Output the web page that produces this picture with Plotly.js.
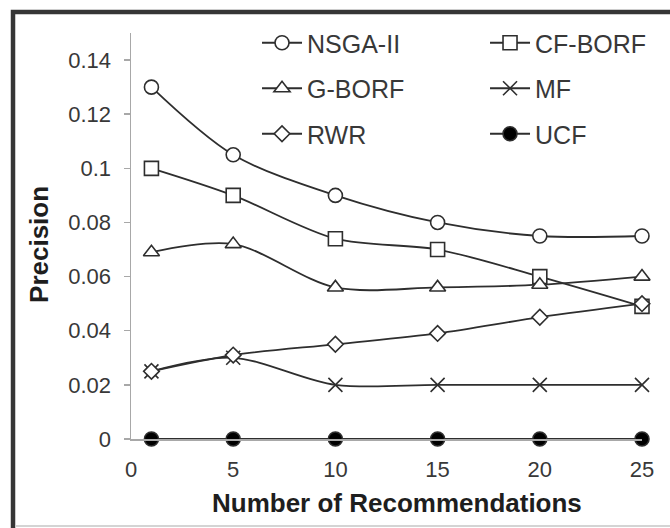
<!DOCTYPE html>
<html>
<head>
<meta charset="utf-8">
<script src="https://cdn.plot.ly/plotly-3.0.1.min.js"></script>
<style>
  html, body { margin: 0; padding: 0; background: #fff; }
  #chart { width: 670px; height: 528px; }
</style>
</head>
<body>
<div id="chart"></div>
<script>
// Number of recommendations (x positions)
const recommendations = [1, 5, 10, 15, 20, 25];

// Precision per method
const nsga2  = [0.130, 0.105, 0.090, 0.080, 0.075, 0.075];
const cfBorf = [0.100, 0.090, 0.074, 0.070, 0.060, 0.049];
const gBorf  = [0.069, 0.072, 0.056, 0.056, 0.057, 0.060];
const mf     = [0.025, 0.030, 0.020, 0.020, 0.020, 0.020];
const rwr    = [0.025, 0.031, 0.035, 0.039, 0.045, 0.050];
const ucf    = [0, 0, 0, 0, 0, 0];

// Axis ticks
const xTickVals = [0, 5, 10, 15, 20, 25];
const xTickText = ['0', '5', '10', '15', '20', '25'];
const yTickVals = [0, 0.02, 0.04, 0.06, 0.08, 0.1, 0.12, 0.14];
const yTickText = ['0', '0.02', '0.04', '0.06', '0.08', '0.1', '0.12', '0.14'];

const INK = '#2e2e2e';
const LINE_W = 1.8;

function series(name, y, symbol, size, fill, legendId, group) {
  return {
    type: 'scatter',
    mode: 'lines+markers',
    name: name,
    x: recommendations,
    y: y,
    legend: legendId,
    legendgroup: group,
    line: { color: INK, width: LINE_W, shape: 'spline', smoothing: 0.9 },
    marker: {
      symbol: symbol,
      size: size,
      color: fill,
      line: { color: INK, width: 1.6 }
    },
    cliponaxis: false
  };
}

const traces = [
  series('NSGA-II', nsga2,  'circle',        14, '#ffffff', 'legend',  'g1'),
  series('CF-BORF', cfBorf, 'square',        14, '#ffffff', 'legend2', 'g2'),
  series('G-BORF',  gBorf,  'triangle-up',   14, '#ffffff', 'legend',  'g3'),
  series('MF',      mf,     'x-thin-open',   14, INK,       'legend2', 'g4'),
  series('RWR',     rwr,    'diamond',       12, '#ffffff', 'legend',  'g5'),
  series('UCF',     ucf,    'circle',        14, '#000000', 'legend2', 'g6')
];

const tickFont = { family: 'Liberation Sans, Arial, sans-serif', size: 22, color: '#383838' };
const titleFont = { family: 'Liberation Sans, Arial, sans-serif', size: 26, color: '#1e1e1e', weight: 'bold' };
const legendFont = { family: 'Liberation Sans, Arial, sans-serif', size: 25, color: '#383838' };

const legendCommon = {
  font: legendFont,
  bgcolor: 'rgba(0,0,0,0)',
  borderwidth: 0,
  itemwidth: 40,
  traceorder: 'grouped',
  tracegroupgap: 10,
  yanchor: 'top',
  xanchor: 'left',
  itemclick: false,
  itemdoubleclick: false
};

const layout = {
  width: 670,
  height: 528,
  margin: { l: 131, r: 28, t: 33, b: 89 },
  paper_bgcolor: '#ffffff',
  plot_bgcolor: '#ffffff',
  showlegend: true,
  xaxis: {
    range: [0, 25],
    tickvals: xTickVals,
    ticktext: xTickText,
    showgrid: false,
    zeroline: false,
    showline: true,
    linecolor: '#a8a8a8',
    linewidth: 1.5,
    ticks: '',
    ticklabelstandoff: 10,
    tickfont: tickFont,
    fixedrange: true
  },
  yaxis: {
    range: [0, 0.15],
    tickvals: yTickVals,
    ticktext: yTickText,
    showgrid: false,
    zeroline: false,
    showline: true,
    linecolor: '#a8a8a8',
    linewidth: 1.5,
    ticks: 'outside',
    ticklen: 6,
    tickcolor: '#a8a8a8',
    tickwidth: 1.5,
    ticklabelstandoff: 8,
    tickfont: tickFont,
    fixedrange: true
  },
  legend: Object.assign({}, legendCommon, { x: 0.2466, y: 1.032 }),
  legend2: Object.assign({}, legendCommon, { x: 0.6928, y: 1.032 }),
  annotations: [
    {
      text: 'Number of Recommendations',
      xref: 'paper', yref: 'paper',
      x: 0.5205, y: -0.1576,
      xanchor: 'center', yanchor: 'middle',
      showarrow: false,
      font: titleFont
    },
    {
      text: 'Precision',
      xref: 'paper', yref: 'paper',
      x: -0.18, y: 0.478,
      xanchor: 'center', yanchor: 'middle',
      textangle: -90,
      showarrow: false,
      font: titleFont
    }
  ],
  shapes: [
    // outer frame (top and left edges visible; right/bottom run past the page)
    {
      type: 'rect', xref: 'paper', yref: 'paper',
      x0: -0.2309, x1: 1.08, y0: -0.26, y1: 1.0517,
      line: { color: '#363636', width: 4.5 },
      fillcolor: 'rgba(0,0,0,0)',
      layer: 'below'
    },
    // faint rule along the bottom edge
    {
      type: 'line', xref: 'paper', yref: 'paper',
      x0: -0.226, x1: 1.06, y0: -0.2143, y1: -0.2143,
      line: { color: '#d4d4d4', width: 2 },
      layer: 'below'
    }
  ]
};

Plotly.newPlot('chart', traces, layout, { displayModeBar: false, staticPlot: true });
</script>
</body>
</html>
